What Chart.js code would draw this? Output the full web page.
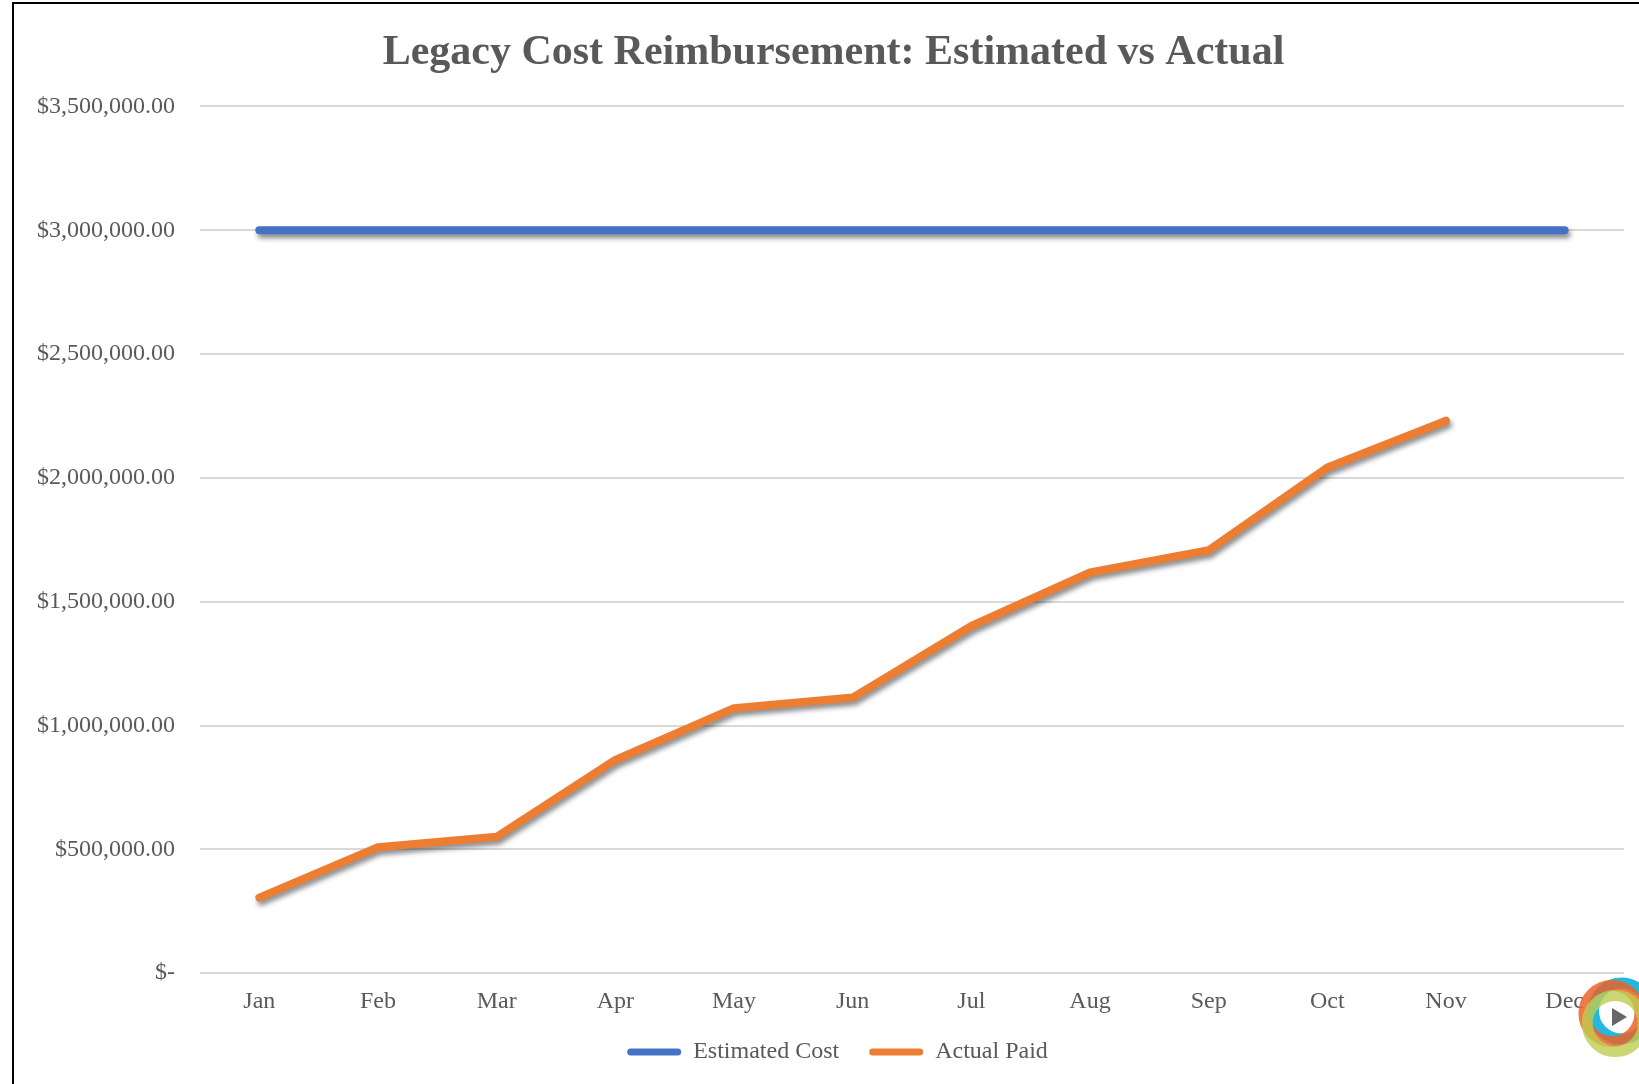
<!DOCTYPE html>
<html lang="en">
<head>
  <meta charset="UTF-8">
  <title>Legacy Cost Reimbursement: Estimated vs Actual</title>
  <script src="https://cdn.jsdelivr.net/npm/chart.js"></script>
  <style>
    html, body { margin: 0; padding: 0; background: #ffffff; overflow: hidden; }
    #costChart { display: block; }
  </style>
</head>
<body>
<canvas id="costChart" width="1639" height="1084"></canvas>

<script>
// chart data
const months = ['Jan', 'Feb', 'Mar', 'Apr', 'May', 'Jun', 'Jul', 'Aug', 'Sep', 'Oct', 'Nov', 'Dec'];
const estimatedCost = [3000000, 3000000, 3000000, 3000000, 3000000, 3000000, 3000000, 3000000, 3000000, 3000000, 3000000, 3000000];
const actualPaid = [305000, 509000, 551000, 861000, 1070000, 1113000, 1402000, 1618000, 1708000, 2042000, 2231000, null];
const yTicks = [0, 500000, 1000000, 1500000, 2000000, 2500000, 3000000, 3500000];

const serif = '"Liberation Serif", "Times New Roman", serif';
const grey = '#595959';

function money(v) {
  if (v === 0) return '$-';
  return '$' + v.toLocaleString('en-US', { minimumFractionDigits: 2, maximumFractionDigits: 2 });
}

// white page + the frame edges seen at top and left
const framePlugin = {
  id: 'frame',
  beforeDraw(chart) {
    const ctx = chart.ctx;
    ctx.save();
    ctx.fillStyle = '#ffffff';
    ctx.fillRect(0, 0, chart.width, chart.height);
    ctx.strokeStyle = '#000000';
    ctx.lineWidth = 2;
    ctx.beginPath();
    ctx.moveTo(13, chart.height);
    ctx.lineTo(13, 3);
    ctx.lineTo(chart.width, 3);
    ctx.stroke();
    ctx.restore();
  }
};

// the original frame runs past the right edge, so title and legend sit a bit right of centre
const nudgePlugin = {
  id: 'nudge',
  afterLayout(chart) {
    const t = chart.titleBlock;
    t.left += 8; t.right += 8;
    const l = chart.legend;
    l.left += 12; l.right += 12;
    l.top -= 20; l.bottom -= 20;
  }
};

// soft drop shadow under the lines
const shadowPlugin = {
  id: 'lineShadow',
  beforeDatasetsDraw(chart) {
    const ctx = chart.ctx;
    ctx.save();
    ctx.shadowColor = 'rgba(0, 0, 0, 0.45)';
    ctx.shadowBlur = 5;
    ctx.shadowOffsetX = 2;
    ctx.shadowOffsetY = 4;
  },
  afterDatasetsDraw(chart) {
    chart.ctx.restore();
  }
};

// small logo in the bottom right corner
const logoPlugin = {
  id: 'logo',
  afterDraw(chart) {
    const ctx = chart.ctx;
    const cx = 1618, cy = 1017;
    const rings = [
      { color: 'rgba(0, 170, 220, 0.85)', a: -Math.PI / 3 },
      { color: 'rgba(234, 100, 40, 0.85)', a: Math.PI + Math.PI / 6 },
      { color: 'rgba(190, 205, 80, 0.8)', a: Math.PI / 2 + 0.4 }
    ];
    ctx.save();
    rings.forEach(r => {
      ctx.beginPath();
      ctx.strokeStyle = r.color;
      ctx.lineWidth = 11;
      ctx.arc(cx + Math.cos(r.a) * 7, cy + Math.sin(r.a) * 7, 28, 0, Math.PI * 2);
      ctx.stroke();
    });
    ctx.fillStyle = '#666666';
    ctx.beginPath();
    ctx.moveTo(cx - 6, cy - 9);
    ctx.lineTo(cx + 9, cy);
    ctx.lineTo(cx - 6, cy + 9);
    ctx.closePath();
    ctx.fill();
    ctx.restore();
  }
};

const ctx = document.getElementById('costChart').getContext('2d');
new Chart(ctx, {
  type: 'line',
  data: {
    labels: months,
    datasets: [
      {
        label: 'Estimated Cost',
        data: estimatedCost,
        borderColor: '#4472C4',
        backgroundColor: '#4472C4',
        borderWidth: 8,
        borderCapStyle: 'round',
        borderJoinStyle: 'round',
        pointRadius: 0,
        tension: 0
      },
      {
        label: 'Actual Paid',
        data: actualPaid,
        borderColor: '#ED7D31',
        backgroundColor: '#ED7D31',
        borderWidth: 8,
        borderCapStyle: 'round',
        borderJoinStyle: 'round',
        pointRadius: 0,
        tension: 0
      }
    ]
  },
  options: {
    responsive: false,
    animation: false,
    devicePixelRatio: 1,
    layout: { padding: { left: 27, right: 15, top: 0, bottom: -10 } },
    plugins: {
      title: {
        display: true,
        text: 'Legacy Cost Reimbursement: Estimated vs Actual',
        color: grey,
        font: { family: serif, size: 42, weight: 'bold' },
        padding: { top: 28, bottom: 28 }
      },
      legend: {
        position: 'bottom',
        labels: {
          color: grey,
          font: { family: serif, size: 24 },
          boxWidth: 54,
          boxHeight: 7,
          useBorderRadius: true,
          borderRadius: 3.5,
          padding: 30,
          // flat rounded bars, no stroke around them
          generateLabels(chart) {
            return Chart.defaults.plugins.legend.labels.generateLabels(chart)
              .map(item => Object.assign(item, { lineWidth: 0 }));
          }
        }
      },
      tooltip: { enabled: false }
    },
    scales: {
      x: {
        offset: true,
        grid: { display: false, drawTicks: false },
        border: { display: false },
        ticks: {
          color: grey,
          font: { family: serif, size: 24 },
          padding: 14
        }
      },
      y: {
        min: 0,
        max: 3500000,
        afterFit(scale) { scale.width = 173; },
        afterBuildTicks(scale) { scale.ticks = yTicks.map(v => ({ value: v })); },
        grid: { color: '#d9d9d9', lineWidth: 2, drawTicks: false },
        border: { display: false },
        ticks: {
          color: grey,
          font: { family: serif, size: 24 },
          padding: 25,
          callback: v => money(v)
        }
      }
    }
  },
  plugins: [framePlugin, nudgePlugin, shadowPlugin, logoPlugin]
});
</script>
</body>
</html>
